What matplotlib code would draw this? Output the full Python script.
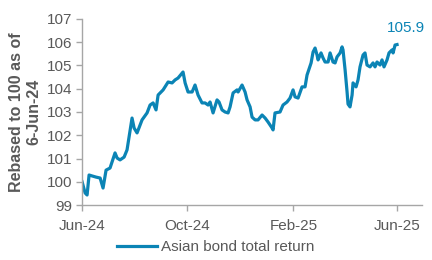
import matplotlib
matplotlib.use("Agg")
import matplotlib.pyplot as plt
import pandas as pd

plt.rcParams['font.family'] = ['Liberation Sans', 'DejaVu Sans']

start_date = "2024-06-06"
day_offset = [0, 3.5, 5.8, 8.1, 11.6, 16.2, 20.9, 24.3, 27.8, 32.4, 38.2, 40.6, 44.0, 48.7, 52.1,
              57.9, 60.3, 63.7, 69.5, 75.3, 78.8, 82.3, 85.7, 88.1, 93.9, 99.7, 104.3, 107.8, 111.2,
              117.0, 119.4, 122.8, 127.5, 130.9, 134.4, 139.0, 142.5, 146.0, 148.3, 151.8, 156.4,
              158.7, 162.2, 165.7, 169.2, 171.5, 175.0, 179.6, 180.8, 185.4, 188.9, 191.2, 194.7,
              197.0, 200.5, 203.9, 208.6, 212.1, 215.5, 220.2, 221.3, 223.6, 229.4, 232.9, 237.5,
              241.0, 244.5, 246.8, 250.3, 254.9, 258.4, 260.7, 265.4, 267.7, 270.0, 272.3, 273.5,
              276.9, 279.3, 281.6, 285.1, 287.4, 290.8, 293.2, 295.5, 299.0, 301.3, 302.4, 304.8,
              307.1, 308.2, 310.5, 312.9, 314.0, 317.5, 319.8, 322.1, 325.6, 327.9, 330.2, 333.7,
              337.2, 339.5, 341.8, 345.3, 347.6, 349.9, 353.4, 355.7, 359.2, 360.4, 362.7, 365]
values = [100.0, 99.52, 99.43, 100.29, 100.25, 100.2, 100.16, 99.73, 100.5, 100.59, 101.24, 101.02,
          100.94, 101.06, 101.37, 102.74, 102.31, 102.1, 102.66, 102.96, 103.3, 103.39, 103.09,
          103.73, 103.95, 104.29, 104.25, 104.38, 104.46, 104.72, 104.25, 103.86, 103.86, 104.16,
          103.73, 103.39, 103.39, 103.3, 103.43, 102.96, 103.52, 103.43, 103.09, 103.0, 102.96,
          103.22, 103.82, 103.95, 103.86, 104.16, 103.86, 103.52, 103.22, 102.78, 102.66, 102.66,
          102.87, 102.74, 102.57, 102.31, 102.23, 102.96, 103.0, 103.3, 103.43, 103.6, 103.95,
          103.65, 103.6, 104.08, 104.08, 104.59, 105.11, 105.58, 105.75, 105.45, 105.24, 105.54,
          105.32, 105.15, 105.15, 105.54, 105.15, 105.11, 105.37, 105.54, 105.8, 105.67, 104.81,
          103.86, 103.34, 103.22, 103.73, 104.25, 104.08, 104.38, 104.94, 105.45, 105.54, 105.02,
          104.94, 105.11, 104.94, 105.15, 105.02, 105.24, 104.94, 105.24, 105.54, 105.67, 105.54,
          105.88, 105.9]
tick_dates = ["2024-06-06", "2024-10-06", "2025-02-06", "2025-06-06"]
tick_labels = ["Jun-24", "Oct-24", "Feb-25", "Jun-25"]
series_name = "Asian bond total return"
end_label = "105.9"

dates = pd.Timestamp(start_date) + pd.to_timedelta(day_offset, unit="D")

line_color = "#0b84b5"
grey = "#595959"

fig = plt.figure(figsize=(4.32, 2.6), dpi=100)
ax = fig.add_axes([0.19, 0.2115, 0.787, 0.7155])
ax.plot(dates, values, color=line_color, lw=2.3, label=series_name, solid_joinstyle='round')

ax.set_ylim(99, 107)
ax.set_yticks(range(99, 108))
ax.set_xlim(pd.Timestamp(start_date), pd.Timestamp(start_date) + pd.Timedelta(days=394))
ax.set_xticks(pd.to_datetime(tick_dates))
ax.set_xticklabels(tick_labels)

for s in ["top", "right"]:
    ax.spines[s].set_visible(False)
for s in ["left", "bottom"]:
    ax.spines[s].set_color("#a6a6a6")
    ax.spines[s].set_linewidth(1.0)
ax.tick_params(axis="both", colors="#a6a6a6", labelcolor=grey, labelsize=11, length=4, width=1.0)
ax.tick_params(axis="x", pad=6)
ax.tick_params(axis="y", pad=3)

ax.set_ylabel("Rebased to 100 as of\n6-Jun-24", fontsize=11.5, fontweight="bold", color=grey,
              linespacing=1.2, labelpad=4)

ax.annotate(end_label, xy=(dates[-1], values[-1]), xytext=(6.5, 12), textcoords="offset points",
            ha="center", va="center", fontsize=11, color=line_color)

fig.legend(loc="lower center", bbox_to_anchor=(0.5, -0.03), frameon=False, fontsize=11,
           handlelength=2.6, handletextpad=0.3, labelcolor=grey)

fig.savefig("out.png", dpi=100)
